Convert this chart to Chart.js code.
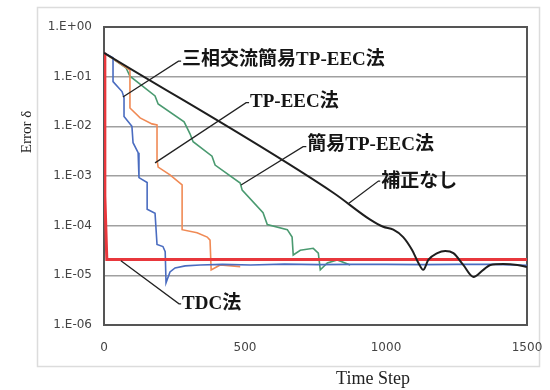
<!DOCTYPE html>
<html><head><meta charset="utf-8">
<script src="https://cdn.jsdelivr.net/npm/chart.js@4/dist/chart.umd.min.js"></script>
<style>html,body{margin:0;padding:0;background:#fff}</style>
</head><body>
<canvas id="c" width="550" height="390"></canvas>
<script>
// ---- data ----
const xTicks = [0, 500, 1000, 1500];
const yTicks = [1e-6, 1e-5, 1e-4, 1e-3, 1e-2, 1e-1, 1];
const yTickLabels = ['1.E-06', '1.E-05', '1.E-04', '1.E-03', '1.E-02', '1.E-01', '1.E+00'];
const xTitle = 'Time Step';
const yTitle = 'Error δ';

const seriesNames = ['補正なし', 'TDC法', '三相交流簡易TP-EEC法', 'TP-EEC法', '簡易TP-EEC法'];

const blackSteps  = [0, 813, 944, 990, 1026, 1061, 1093, 1115, 1132, 1150, 1182, 1210, 1239, 1274, 1310, 1345, 1370, 1416, 1466, 1500];
const blackValues = [0.302, 4.6e-4, 1.32e-4, 9.5e-5, 8.3e-5, 5.9e-5, 3.2e-5, 1.78e-5, 1.29e-5, 2.04e-5, 2.8e-5, 3.1e-5, 2.8e-5, 1.62e-5, 9.3e-6, 1.29e-5, 1.62e-5, 1.7e-5, 1.62e-5, 1.48e-5];

const redSteps  = [0, 3, 10, 1500];
const redValues = [0.302, 4e-4, 2.09e-5, 2.09e-5];

const blueSteps  = [0, 32, 32, 64, 71, 71, 99, 103, 121, 124, 153, 153, 181, 188, 209, 217, 220, 234, 252, 288, 341, 420, 520, 640, 760, 880, 1000, 1130, 1250, 1380, 1500];
const blueValues = [0.302, 0.24, 0.0794, 0.0501, 0.038, 0.0158, 0.01, 0.00468, 0.00295, 9.3e-4, 7.4e-4, 2.14e-4, 1.78e-4, 4.17e-5, 3.8e-5, 3.0e-5, 7.1e-6, 1.17e-5, 1.41e-5, 1.55e-5, 1.62e-5, 1.66e-5, 1.62e-5, 1.68e-5, 1.64e-5, 1.66e-5, 1.66e-5, 1.64e-5, 1.66e-5, 1.66e-5, 1.6e-5];

const orangeSteps  = [0, 92, 92, 128, 170, 188, 188, 192, 234, 277, 277, 330, 366, 376, 380, 412, 483];
const orangeValues = [0.302, 0.135, 0.0234, 0.0148, 0.0112, 0.0107, 0.0021, 0.00151, 0.00105, 6.6e-4, 8.3e-5, 7.2e-5, 5.9e-5, 5.1e-5, 1.29e-5, 1.62e-5, 1.5e-5];

const greenSteps  = [0, 78, 92, 181, 192, 284, 305, 316, 383, 394, 483, 490, 564, 579, 650, 667, 671, 696, 742, 760, 767, 792, 827, 873];
const greenValues = [0.302, 0.151, 0.102, 0.041, 0.0282, 0.0123, 0.00708, 0.0049, 0.00251, 0.00166, 7.2e-4, 5.2e-4, 1.82e-4, 1.05e-4, 8.3e-5, 5.9e-5, 2.57e-5, 3.2e-5, 3.5e-5, 2.8e-5, 1.29e-5, 1.78e-5, 2.04e-5, 1.62e-5];

// annotation labels (positions in data units: step, error)
const annoLabels  = ['三相交流簡易TP-EEC法', 'TP-EEC法', '簡易TP-EEC法', '補正なし', 'TDC法'];
const annoTextX   = [277, 518, 721, 983, 277];
const annoTextY   = [0.217, 0.031, 4.22e-3, 7.6e-4, 2.67e-6];
const leaderFromX = [67, 181, 486, 866, 60];
const leaderFromY = [0.039, 1.84e-3, 6.6e-4, 2.75e-4, 1.96e-5];
const leaderToX   = [264, 504, 706, 973, 266];
const leaderToY   = [0.205, 0.0300, 3.9e-3, 7.9e-4, 2.67e-6];

const pts = (s, v) => s.map((x, i) => ({x, y: v[i]}));

const deco = {
  id: 'deco',
  beforeDraw(chart) {
    const c = chart.ctx;
    c.save();
    c.fillStyle = '#fff';
    c.fillRect(0, 0, chart.width, chart.height);
    c.strokeStyle = '#dcdcdc';
    c.lineWidth = 1.5;
    c.strokeRect(37.5, 7.5, 502, 359);
    c.restore();
  },
  beforeDatasetsDraw(chart) {
    const c = chart.ctx, a = chart.chartArea;
    c.save();
    c.strokeStyle = '#555';
    c.lineWidth = 2;
    c.strokeRect(a.left, a.top, a.right - a.left, a.bottom - a.top);
    c.restore();
  },
  afterDatasetsDraw(chart) {
    const c = chart.ctx, xs = chart.scales.x, ys = chart.scales.y;
    c.save();
    c.strokeStyle = '#222';
    c.lineWidth = 1.3;
    for (let i = 0; i < annoLabels.length; i++) {
      const x0 = xs.getPixelForValue(leaderFromX[i]), y0 = ys.getPixelForValue(leaderFromY[i]);
      const x1 = xs.getPixelForValue(leaderToX[i]), y1 = ys.getPixelForValue(leaderToY[i]);
      const tx = xs.getPixelForValue(annoTextX[i]);
      c.beginPath(); c.moveTo(x0, y0); c.lineTo(x1, y1); c.lineTo(tx - 1, y1); c.stroke();
    }
    c.fillStyle = '#151515';
    c.font = 'bold 19px "Liberation Serif", "Noto Sans CJK JP", serif';
    c.textBaseline = 'middle';
    c.textAlign = 'left';
    for (let i = 0; i < annoLabels.length; i++) {
      c.fillText(annoLabels[i], xs.getPixelForValue(annoTextX[i]), ys.getPixelForValue(annoTextY[i]));
    }
    // axis titles
    c.fillStyle = '#222';
    c.font = '18px "Liberation Serif", serif';
    c.textAlign = 'center';
    c.fillText(xTitle, 373, 379);
    c.save();
    c.translate(27, 132);
    c.rotate(-Math.PI / 2);
    c.font = '15px "Liberation Serif", serif';
    c.fillText(yTitle, 0, 0);
    c.restore();
    c.restore();
  }
};

new Chart(document.getElementById('c'), {
  type: 'line',
  data: {
    datasets: [
      {label: seriesNames[0], data: pts(blackSteps, blackValues), borderColor: '#1e1e1e', borderWidth: 2, cubicInterpolationMode: 'monotone'},
      {label: seriesNames[1], data: pts(redSteps, redValues), borderColor: '#e8373c', borderWidth: 3, tension: 0},
      {label: seriesNames[2], data: pts(blueSteps, blueValues), borderColor: '#4a6cc0', borderWidth: 1.6, tension: 0},
      {label: seriesNames[3], data: pts(orangeSteps, orangeValues), borderColor: '#f08a55', borderWidth: 1.6, tension: 0},
      {label: seriesNames[4], data: pts(greenSteps, greenValues), borderColor: '#4a9a70', borderWidth: 1.6, tension: 0}
    ]
  },
  options: {
    responsive: false,
    animation: false,
    layout: {padding: {top: 27, right: 23, left: 0, bottom: 0}},
    plugins: {legend: {display: false}, tooltip: {enabled: false}},
    elements: {point: {radius: 0}},
    scales: {
      x: {
        type: 'linear', min: 0, max: 1500,
        afterBuildTicks: s => { s.ticks = xTicks.map(v => ({value: v})); },
        ticks: {callback: (v, i) => String(xTicks[i]), font: {family: 'DejaVu Sans', size: 12}, color: '#444', padding: 16, maxRotation: 0, autoSkip: false},
        grid: {display: false, drawTicks: false},
        border: {display: false},
        afterFit: s => { s.height = 65; s.paddingLeft = 0; s.paddingRight = 0; }
      },
      y: {
        type: 'logarithmic', min: 1e-6, max: 1,
        afterBuildTicks: s => { s.ticks = yTicks.map(v => ({value: v})); },
        ticks: {callback: (v, i) => yTickLabels[i], font: {family: 'DejaVu Sans', size: 12}, color: '#444', padding: 12, autoSkip: false},
        grid: {color: '#a0a0a0', lineWidth: 1.5, drawTicks: false},
        border: {display: false},
        afterFit: s => { s.width = 104; s.paddingTop = 0; s.paddingBottom = 0; }
      }
    }
  },
  plugins: [deco]
});
</script>
</body></html>
